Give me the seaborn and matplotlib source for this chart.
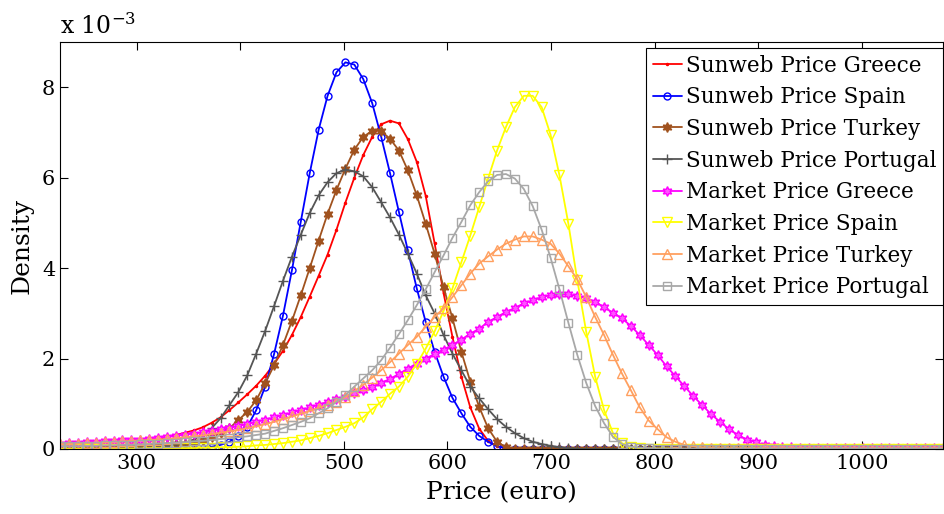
import numpy as np
import matplotlib
matplotlib.use('Agg')
import matplotlib.pyplot as plt
import seaborn as sns

# evaluation grid of the density estimates (100 points, euro)
price = np.linspace(226, 1078.4, 100)

# densities in units of 1e-3
sunweb_greece = [
    0.08, 0.09, 0.10, 0.11, 0.12, 0.13, 0.14, 0.15, 0.16, 0.18,
    0.20, 0.23, 0.26, 0.31, 0.36, 0.41, 0.48, 0.58, 0.70, 0.86,
    1.03, 1.21, 1.40, 1.62, 1.88, 2.17, 2.52, 2.92, 3.37, 3.83,
    4.30, 4.85, 5.45, 6.00, 6.50, 6.90, 7.18, 7.26, 7.20, 6.85,
    6.35, 5.60, 4.55, 3.45, 2.48, 1.60, 0.92, 0.45, 0.18, 0.06,
    0.02, 0.01, 0, 0, 0, 0, 0, 0, 0, 0,
    0, 0, 0, 0, 0, 0, 0, 0, 0, 0,
    0, 0, 0, 0, 0, 0, 0, 0, 0, 0,
    0, 0, 0, 0, 0, 0, 0, 0, 0, 0,
    0, 0, 0, 0, 0, 0, 0, 0, 0, 0,
]
sunweb_spain = [
    0, 0, 0, 0, 0, 0, 0, 0, 0, 0,
    0, 0, 0, 0.01, 0.01, 0.02, 0.03, 0.05, 0.09, 0.16,
    0.28, 0.49, 0.86, 1.38, 2.10, 2.95, 3.95, 5.03, 6.10, 7.06,
    7.81, 8.33, 8.55, 8.50, 8.18, 7.65, 6.91, 6.10, 5.24, 4.39,
    3.55, 2.81, 2.15, 1.60, 1.13, 0.79, 0.49, 0.29, 0.16, 0.06,
    0.02, 0.01, 0, 0, 0, 0, 0, 0, 0, 0,
    0, 0, 0, 0, 0, 0, 0, 0, 0, 0,
    0, 0, 0, 0, 0, 0, 0, 0, 0, 0,
    0, 0, 0, 0, 0, 0, 0, 0, 0, 0,
    0, 0, 0, 0, 0, 0, 0, 0, 0, 0,
]
sunweb_turkey = [
    0.03, 0.03, 0.03, 0.04, 0.04, 0.04, 0.05, 0.05, 0.06, 0.06,
    0.07, 0.08, 0.09, 0.10, 0.12, 0.15, 0.20, 0.26, 0.35, 0.46,
    0.64, 0.82, 1.08, 1.45, 1.85, 2.30, 2.83, 3.40, 4.00, 4.61,
    5.20, 5.73, 6.20, 6.62, 6.90, 7.04, 7.03, 6.86, 6.60, 6.16,
    5.61, 4.98, 4.32, 3.58, 2.89, 2.15, 1.49, 0.93, 0.46, 0.16,
    0.04, 0.01, 0, 0, 0, 0, 0, 0, 0, 0,
    0, 0, 0, 0, 0, 0, 0, 0, 0, 0,
    0, 0, 0, 0, 0, 0, 0, 0, 0, 0,
    0, 0, 0, 0, 0, 0, 0, 0, 0, 0,
    0, 0, 0, 0, 0, 0, 0, 0, 0, 0,
]
sunweb_portugal = [
    0.01, 0.01, 0.01, 0.01, 0.02, 0.02, 0.02, 0.02, 0.03, 0.03,
    0.04, 0.05, 0.07, 0.10, 0.14, 0.21, 0.31, 0.46, 0.68, 0.97,
    1.26, 1.63, 2.11, 2.61, 3.16, 3.72, 4.25, 4.74, 5.22, 5.61,
    5.90, 6.10, 6.18, 6.14, 6.03, 5.79, 5.46, 5.12, 4.74, 4.32,
    3.88, 3.40, 3.00, 2.52, 2.11, 1.74, 1.38, 1.12, 0.88, 0.66,
    0.49, 0.35, 0.24, 0.16, 0.11, 0.07, 0.04, 0.02, 0.01, 0,
    0, 0, 0, 0, 0, 0, 0, 0, 0, 0,
    0, 0, 0, 0, 0, 0, 0, 0, 0, 0,
    0, 0, 0, 0, 0, 0, 0, 0, 0, 0,
    0, 0, 0, 0, 0, 0, 0, 0, 0, 0,
]
market_greece = [
    0.12, 0.13, 0.14, 0.15, 0.16, 0.17, 0.18, 0.19, 0.20, 0.21,
    0.23, 0.25, 0.27, 0.29, 0.32, 0.34, 0.37, 0.40, 0.44, 0.47,
    0.51, 0.55, 0.60, 0.65, 0.70, 0.75, 0.81, 0.86, 0.92, 0.98,
    1.04, 1.10, 1.16, 1.23, 1.30, 1.38, 1.46, 1.55, 1.66, 1.78,
    1.89, 2.00, 2.10, 2.20, 2.30, 2.42, 2.55, 2.66, 2.81, 2.92,
    3.03, 3.12, 3.22, 3.29, 3.36, 3.40, 3.42, 3.42, 3.38, 3.34,
    3.25, 3.14, 3.01, 2.89, 2.72, 2.52, 2.30, 2.08, 1.83, 1.61,
    1.39, 1.17, 0.97, 0.77, 0.60, 0.44, 0.31, 0.21, 0.15, 0.09,
    0.07, 0.05, 0.04, 0.03, 0.02, 0.02, 0.02, 0.02, 0.02, 0.02,
    0.02, 0.02, 0.02, 0.02, 0.02, 0.02, 0.02, 0.02, 0.02, 0.02,
]
market_spain = [
    0.01, 0.01, 0.01, 0.01, 0.01, 0.01, 0.01, 0.01, 0.01, 0.01,
    0.02, 0.02, 0.02, 0.02, 0.02, 0.02, 0.03, 0.03, 0.04, 0.04,
    0.05, 0.06, 0.08, 0.09, 0.11, 0.13, 0.16, 0.19, 0.24, 0.29,
    0.35, 0.42, 0.49, 0.57, 0.70, 0.88, 1.04, 1.22, 1.38, 1.60,
    1.88, 2.22, 2.60, 3.05, 3.55, 4.13, 4.72, 5.35, 5.98, 6.60,
    7.12, 7.56, 7.81, 7.81, 7.56, 6.95, 6.05, 4.98, 3.73, 2.59,
    1.60, 0.86, 0.35, 0.13, 0.04, 0.02, 0.01, 0.01, 0.01, 0.01,
    0, 0, 0, 0, 0, 0, 0, 0, 0, 0,
    0, 0, 0, 0, 0, 0, 0, 0, 0, 0,
    0, 0, 0, 0, 0, 0, 0, 0, 0, 0,
]
market_turkey = [
    0.10, 0.11, 0.12, 0.13, 0.14, 0.15, 0.16, 0.17, 0.18, 0.19,
    0.20, 0.21, 0.22, 0.24, 0.26, 0.28, 0.30, 0.33, 0.36, 0.39,
    0.42, 0.46, 0.50, 0.55, 0.60, 0.66, 0.72, 0.78, 0.84, 0.91,
    0.98, 1.05, 1.15, 1.28, 1.42, 1.58, 1.74, 1.92, 2.11, 2.30,
    2.48, 2.70, 2.92, 3.11, 3.36, 3.62, 3.88, 4.10, 4.26, 4.41,
    4.54, 4.63, 4.70, 4.70, 4.63, 4.54, 4.32, 4.04, 3.75, 3.36,
    2.92, 2.52, 2.08, 1.67, 1.30, 0.92, 0.63, 0.44, 0.26, 0.16,
    0.09, 0.06, 0.04, 0.03, 0.02, 0.02, 0.02, 0.02, 0.02, 0.02,
    0.01, 0.01, 0.01, 0.01, 0.01, 0.01, 0.01, 0.01, 0.01, 0.01,
    0.01, 0.01, 0.01, 0.01, 0.01, 0.01, 0.01, 0.01, 0.01, 0.01,
]
market_portugal = [
    0.06, 0.06, 0.06, 0.07, 0.07, 0.08, 0.08, 0.09, 0.09, 0.10,
    0.11, 0.12, 0.13, 0.14, 0.15, 0.17, 0.18, 0.20, 0.22, 0.24,
    0.26, 0.28, 0.31, 0.34, 0.40, 0.46, 0.53, 0.60, 0.68, 0.79,
    0.90, 1.04, 1.19, 1.38, 1.56, 1.74, 1.96, 2.24, 2.54, 2.85,
    3.18, 3.53, 3.91, 4.28, 4.67, 5.02, 5.39, 5.68, 5.92, 6.06,
    6.08, 5.98, 5.75, 5.37, 4.85, 4.23, 3.53, 2.79, 2.08, 1.46,
    0.95, 0.57, 0.27, 0.11, 0.05, 0.03, 0.02, 0.01, 0.01, 0.01,
    0.01, 0.01, 0.01, 0.01, 0.01, 0.01, 0.01, 0.01, 0.01, 0.01,
    0.01, 0.01, 0.01, 0.01, 0.01, 0.01, 0.01, 0.01, 0.01, 0.01,
    0.01, 0.01, 0.01, 0.01, 0.01, 0.01, 0.01, 0.01, 0.01, 0.01,
]

# label, values, line style
series = [
    ("Sunweb Price Greece", sunweb_greece,
     dict(color="#ff0000", marker=".", markersize=3, mfc="#ff0000", mec="#ff0000")),
    ("Sunweb Price Spain", sunweb_spain,
     dict(color="#0000ff", marker="o", markersize=5, mfc="none", mec="#0000ff")),
    ("Sunweb Price Turkey", sunweb_turkey,
     dict(color="#a0521e", marker=(6, 1, 0), markersize=7, mfc="#a0521e", mec="#a0521e")),
    ("Sunweb Price Portugal", sunweb_portugal,
     dict(color="#555555", marker="+", markersize=7, mfc="#555555", mec="#555555")),
    ("Market Price Greece", market_greece,
     dict(color="#ff00ff", marker=(6, 1, 0), markersize=7, mfc="#ff55ff", mec="#ff00ff")),
    ("Market Price Spain", market_spain,
     dict(color="#ffff00", marker="v", markersize=7, mfc="none", mec="#ffff00")),
    ("Market Price Turkey", market_turkey,
     dict(color="#ffa060", marker="^", markersize=7, mfc="none", mec="#ffa060")),
    ("Market Price Portugal", market_portugal,
     dict(color="#a8a8a8", marker="s", markersize=6, mfc="none", mec="#a8a8a8")),
]

sns.set_style("white")
plt.rcParams['font.family'] = ['DejaVu Serif']
plt.rcParams['mathtext.fontset'] = 'dejavuserif'
plt.rcParams['text.color'] = 'black'
plt.rcParams['axes.labelcolor'] = 'black'

fig = plt.figure(figsize=(9.45, 5.14), dpi=100)
ax = fig.add_axes([60 / 945, 1 - 449 / 514, 883 / 945, 407 / 514])

for label, vals, st in series:
    sns.lineplot(x=price, y=vals, ax=ax, label=label, sort=False,
                 errorbar=None, linewidth=1.3, color=st["color"],
                 marker=st["marker"], markersize=st["markersize"],
                 markerfacecolor=st["mfc"], markeredgecolor=st["mec"],
                 markeredgewidth=1.0)

ax.set_xlim(226, 1078.4)
ax.set_ylim(0, 9)
ax.set_xticks([300, 400, 500, 600, 700, 800, 900, 1000])
ax.set_yticks([0, 2, 4, 6, 8])
ax.tick_params(direction='in', top=True, right=True, bottom=True, left=True,
               length=6, width=0.8, labelsize=15, colors='black')
for sp in ax.spines.values():
    sp.set_color('black')
    sp.set_linewidth(0.8)

ax.set_xlabel('Price (euro)', fontsize=18, labelpad=6)
ax.set_ylabel('Density', fontsize=18, labelpad=6)
ax.text(0, 1.008, r'x 10$^{-3}$', transform=ax.transAxes,
        ha='left', va='bottom', fontsize=17)

leg = ax.legend(loc='upper right', bbox_to_anchor=(1.0, 0.985),
                borderaxespad=0, numpoints=1, fancybox=False,
                edgecolor='black', framealpha=1, fontsize=15.5,
                handlelength=1.35, handletextpad=0.2, labelspacing=0.45,
                borderpad=0.3)
leg.get_frame().set_linewidth(0.8)

fig.savefig('out.png', dpi=100, facecolor='white')
